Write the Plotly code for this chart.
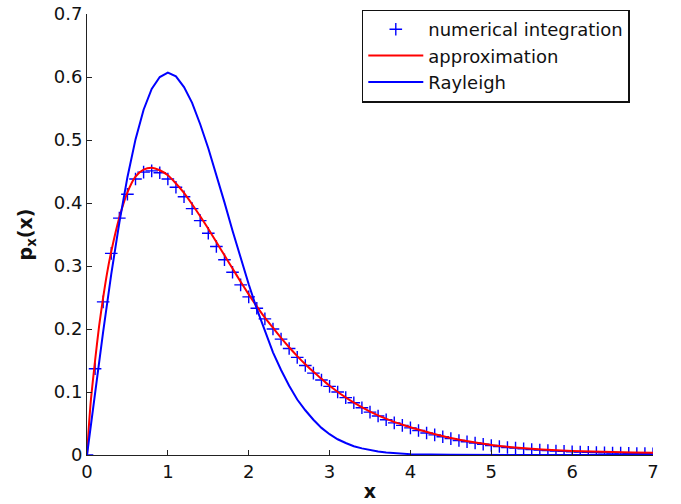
import plotly.graph_objects as go

# ---- data ----
x_num = [0.0, 0.1, 0.2, 0.3, 0.4, 0.5, 0.6, 0.7, 0.8, 0.9,
         1.0, 1.1, 1.2, 1.3, 1.4, 1.5, 1.6, 1.7, 1.8, 1.9,
         2.0, 2.1, 2.2, 2.3, 2.4, 2.5, 2.6, 2.7, 2.8, 2.9,
         3.0, 3.1, 3.2, 3.3, 3.4, 3.5, 3.6, 3.7, 3.8, 3.9,
         4.0, 4.1, 4.2, 4.3, 4.4, 4.5, 4.6, 4.7, 4.8, 4.9,
         5.0, 5.1, 5.2, 5.3, 5.4, 5.5, 5.6, 5.7, 5.8, 5.9,
         6.0, 6.1, 6.2, 6.3, 6.4, 6.5, 6.6, 6.7, 6.8, 6.9, 7.0]
y_num = [0.0, 0.137, 0.243, 0.320, 0.376, 0.414, 0.438, 0.449, 0.451, 0.448,
         0.438, 0.425, 0.410, 0.391, 0.372, 0.352, 0.331, 0.310, 0.290, 0.270,
         0.251, 0.233, 0.216, 0.200, 0.184, 0.169, 0.155, 0.142, 0.130, 0.119,
         0.109, 0.100, 0.091, 0.083, 0.075, 0.068, 0.062, 0.056, 0.051, 0.047,
         0.043, 0.039, 0.035, 0.032, 0.029, 0.026, 0.023, 0.021, 0.019, 0.017,
         0.015, 0.0135, 0.012, 0.011, 0.0098, 0.0087, 0.0078, 0.0070, 0.0063, 0.0057,
         0.0051, 0.0046, 0.0042, 0.0038, 0.0035, 0.0032, 0.0029, 0.0027, 0.0025, 0.0023, 0.0021]

x_apx = [0.0, 0.02, 0.05, 0.1, 0.15, 0.2, 0.25, 0.3, 0.4, 0.5, 0.6, 0.7, 0.8, 0.9,
         1.0, 1.1, 1.2, 1.3, 1.4, 1.5, 1.6, 1.7, 1.8, 1.9,
         2.0, 2.1, 2.2, 2.3, 2.4, 2.5, 2.6, 2.7, 2.8, 2.9,
         3.0, 3.25, 3.5, 3.75, 4.0, 4.25, 4.5, 4.75, 5.0, 5.25,
         5.5, 5.75, 6.0, 6.25, 6.5, 6.75, 7.0]
y_apx = [0.0, 0.04, 0.09, 0.15, 0.205, 0.25, 0.29, 0.323, 0.377, 0.417, 0.442, 0.453, 0.456, 0.452,
         0.444, 0.431, 0.416, 0.398, 0.379, 0.359, 0.338, 0.317, 0.296, 0.275,
         0.255, 0.236, 0.218, 0.202, 0.186, 0.171, 0.157, 0.144, 0.132, 0.121,
         0.110, 0.087, 0.069, 0.055, 0.044, 0.035, 0.027, 0.021, 0.016, 0.0125,
         0.0098, 0.0080, 0.0065, 0.0055, 0.0047, 0.0040, 0.0035]

x_ray = [0.0, 0.1, 0.2, 0.3, 0.4, 0.5, 0.6, 0.7, 0.8, 0.9,
         1.0, 1.1, 1.2, 1.3, 1.4, 1.5, 1.6, 1.7, 1.8, 1.9,
         2.0, 2.1, 2.2, 2.3, 2.4, 2.5, 2.6, 2.7, 2.8, 2.9,
         3.0, 3.1, 3.2, 3.3, 3.4, 3.5, 3.6, 3.7, 3.8, 3.9,
         4.0, 4.5, 5.0, 5.5, 6.0, 6.5, 7.0]
y_ray = [0.0, 0.0995, 0.196, 0.287, 0.369, 0.441, 0.501, 0.548, 0.581, 0.600,
         0.607, 0.601, 0.584, 0.559, 0.525, 0.487, 0.445, 0.401, 0.356, 0.312,
         0.271, 0.232, 0.196, 0.163, 0.135, 0.110, 0.088, 0.071, 0.056, 0.043,
         0.033, 0.025, 0.019, 0.014, 0.0105, 0.0077, 0.0055, 0.0039, 0.0028, 0.0019,
         0.0013, 0.0002, 0.0, 0.0, 0.0, 0.0, 0.0]

x_ticks = [0, 1, 2, 3, 4, 5, 6, 7]
y_ticks = [0, 0.1, 0.2, 0.3, 0.4, 0.5, 0.6, 0.7]
y_tick_text = ["0", "0.1", "0.2", "0.3", "0.4", "0.5", "0.6", "0.7"]

FONT = "DejaVu Sans"

fig = go.Figure()
fig.add_trace(go.Scatter(
    x=x_num, y=y_num, mode="markers", name="numerical integration",
    marker=dict(symbol="cross-thin-open", size=9, color="#0000ff",
                line=dict(color="#0000ff", width=1.4)),
))
fig.add_trace(go.Scatter(
    x=x_apx, y=y_apx, mode="lines", name="approximation",
    line=dict(color="#ff0000", width=2, shape="spline", smoothing=0.6),
))
fig.add_trace(go.Scatter(
    x=x_ray, y=y_ray, mode="lines", name="Rayleigh",
    line=dict(color="#0000ff", width=2),
))

axis_common = dict(
    showgrid=False, zeroline=False, showline=True, linecolor="#222222", linewidth=1,
    ticks="inside", ticklen=5, tickcolor="#222222", tickwidth=1,
    tickfont=dict(family=FONT, size=18, color="#111111"),
    mirror=False,
)
fig.update_xaxes(range=[0, 7], tickvals=x_ticks, ticktext=[str(v) for v in x_ticks],
                 title=dict(text="<b>x</b>", font=dict(family=FONT, size=19, color="#111111"),
                            standoff=4),
                 **axis_common)
fig.update_yaxes(range=[0, 0.7], tickvals=y_ticks, ticktext=y_tick_text,
                 title=dict(text="<b>p<sub>x</sub>(x)</b>", font=dict(family=FONT, size=19, color="#111111"),
                            standoff=16),
                 **axis_common)

fig.update_layout(
    width=681, height=504,
    margin=dict(l=87, r=28, t=13.5, b=48.5, autoexpand=False),
    plot_bgcolor="white", paper_bgcolor="white",
    font=dict(family=FONT, size=18, color="#111111"),
    showlegend=True,
    legend=dict(
        x=0.959, xanchor="right", y=1.0102, yanchor="top",
        bgcolor="white", bordercolor="#111111", borderwidth=1.5,
        font=dict(family=FONT, size=18, color="#111111"),
        itemwidth=55, tracegroupgap=0,
    ),
)

fig.write_html("out.html")
